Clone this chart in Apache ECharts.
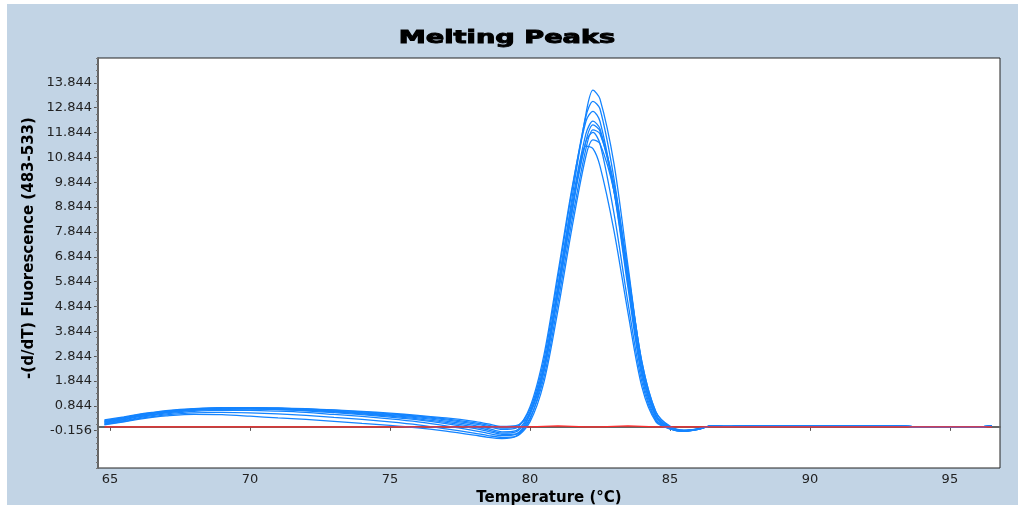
<!DOCTYPE html>
<html>
<head>
<meta charset="utf-8">
<script src="https://cdn.jsdelivr.net/npm/echarts@6/dist/echarts.min.js"></script>
<style>
  html, body { margin: 0; padding: 0; background: #fff; }
  #chart { position: absolute; left: 7px; top: 4px; width: 1011px; height: 501px; }
</style>
</head>
<body>
<div id="chart"></div>
<script>
// temperature (°C)
var temps = [64.8, 65.5, 66, 66.5, 67, 68, 69, 70, 71, 72, 73, 74, 75, 76, 77, 78, 78.5,
  79, 79.5, 80, 80.5, 81, 81.5, 82, 82.25, 82.5, 83, 83.5, 84, 84.5, 85, 85.5, 86, 86.5,
  87, 88, 89, 90, 91, 92, 93, 94, 95, 96, 96.5];

// -(d/dT) fluorescence, 9 samples + negative control
var s1 = [0.28, 0.4, 0.5, 0.58, 0.65, 0.73, 0.77, 0.77, 0.76, 0.73, 0.68, 0.62, 0.55, 0.46, 0.36, 0.22, 0.12,
  0.02, 0.05, 0.55, 2.4, 5.6, 9.2, 12.6, 13.55, 13.2, 10.6, 6.5, 2.5, 0.5, -0.03, -0.14, -0.08, 0.04];
var s2 = [0.25, 0.38, 0.48, 0.56, 0.63, 0.72, 0.76, 0.77, 0.75, 0.72, 0.67, 0.6, 0.52, 0.43, 0.32, 0.17, 0.07,
  -0.05, 0.0, 0.7, 2.7, 6.0, 9.5, 12.5, 13.1, 12.8, 10.0, 6.0, 2.2, 0.4, -0.05, -0.16, -0.09, 0.04];
var s3 = [0.22, 0.36, 0.46, 0.55, 0.62, 0.71, 0.75, 0.76, 0.74, 0.7, 0.64, 0.57, 0.49, 0.4, 0.28, 0.12, 0.02,
  -0.1, -0.05, 0.8, 2.9, 6.2, 9.6, 12.3, 12.7, 12.3, 9.5, 5.6, 2.0, 0.3, -0.07, -0.16, -0.1, 0.04];
var s4 = [0.2, 0.33, 0.44, 0.53, 0.6, 0.7, 0.74, 0.74, 0.72, 0.68, 0.62, 0.55, 0.46, 0.36, 0.23, 0.06, -0.06,
  -0.2, -0.15, 0.6, 2.5, 5.7, 9.0, 11.8, 12.3, 12.0, 9.6, 5.9, 2.3, 0.45, -0.03, -0.15, -0.09, 0.04];
var s5 = [0.18, 0.3, 0.42, 0.5, 0.58, 0.68, 0.72, 0.72, 0.7, 0.66, 0.6, 0.52, 0.43, 0.32, 0.18, 0.0, -0.12,
  -0.25, -0.2, 0.5, 2.3, 5.4, 8.7, 11.5, 12.15, 11.9, 9.5, 5.8, 2.2, 0.4, -0.05, -0.17, -0.1, 0.04];
var s6 = [0.15, 0.28, 0.4, 0.48, 0.56, 0.66, 0.7, 0.71, 0.69, 0.64, 0.57, 0.49, 0.39, 0.28, 0.13, -0.06, -0.18,
  -0.3, -0.28, 0.35, 2.0, 5.0, 8.3, 11.2, 11.95, 11.8, 9.8, 6.3, 2.6, 0.6, 0.0, -0.14, -0.09, 0.04];
var s7 = [0.12, 0.25, 0.36, 0.45, 0.52, 0.62, 0.66, 0.66, 0.63, 0.58, 0.5, 0.42, 0.32, 0.2, 0.04, -0.15, -0.26,
  -0.35, -0.3, 0.5, 2.4, 5.5, 8.8, 11.5, 11.85, 11.4, 8.6, 5.0, 1.8, 0.25, -0.08, -0.18, -0.1, 0.04];
var s8 = [0.1, 0.22, 0.33, 0.41, 0.48, 0.56, 0.58, 0.56, 0.52, 0.46, 0.38, 0.3, 0.2, 0.08, -0.08, -0.25, -0.35,
  -0.42, -0.38, 0.2, 1.8, 4.7, 8.0, 10.9, 11.55, 11.4, 9.5, 6.2, 2.6, 0.6, 0.03, -0.13, -0.08, 0.04];
var s9 = [0.08, 0.2, 0.3, 0.38, 0.44, 0.5, 0.49, 0.43, 0.36, 0.3, 0.22, 0.14, 0.06, -0.04, -0.17, -0.33, -0.42,
  -0.47, -0.38, 0.3, 2.2, 5.3, 8.6, 11.3, 11.2, 10.5, 7.9, 4.6, 1.6, 0.2, -0.08, -0.18, -0.1, 0.04];
// common flat tail 87..96.5
var tail = [0.02, 0.04, 0.04, 0.04, 0.04, 0.04, 0.04, 0.0, 0.0, 0.0, 0.04];
var control = [0, 0, 0, 0, 0, 0, 0, 0, 0, 0, 0, 0, 0, 0, 0, 0, 0,
  0, 0, 0, 0.02, 0.04, 0.02, 0, 0, 0, 0.02, 0.04, 0.02, 0, 0, 0, 0, 0,
  0, 0, 0, 0, 0, 0, 0, 0, 0, 0, 0];

var samples = [s1, s2, s3, s4, s5, s6, s7, s8, s9];

// axis tick labels
var yLabels = [-0.156, 0.844, 1.844, 2.844, 3.844, 4.844, 5.844, 6.844, 7.844, 8.844, 9.844, 10.844, 11.844, 12.844, 13.844];
var xLabels = [65, 70, 75, 80, 85, 90, 95];

var yMinor = [];
for (var v = -1.656; v <= 14.85; v += 0.25) yMinor.push(+v.toFixed(3));

function pairs(ys) {
  return temps.map(function (t, i) { return [t, ys[i]]; });
}

var series = samples.map(function (s, i) {
  return {
    name: 'Sample ' + (i + 1),
    type: 'line',
    data: pairs(s.concat(tail)),
    symbol: 'none',
    smooth: 0.3,
    lineStyle: { color: '#1484ff', width: 1.3 }
  };
});
series.push({
  name: 'Control',
  type: 'line',
  data: pairs(control),
  symbol: 'none',
  lineStyle: { color: '#ff2a2a', width: 1.2 }
});

var chart = echarts.init(document.getElementById('chart'));
chart.setOption({
  animation: false,
  backgroundColor: '#c2d4e5',
  graphic: [
    {
      type: 'text',
      x: 500, y: 35,
      scaleX: 1.6,
      style: {
        text: 'Melting Peaks',
        font: 'bold 17px "DejaVu Sans"',
        fill: '#000',
        stroke: '#000',
        lineWidth: 0.9,
        align: 'center',
        verticalAlign: 'middle'
      }
    },
    {
      type: 'text',
      x: 22, y: 244,
      rotation: Math.PI / 2,
      style: {
        text: '-(d/dT) Fluorescence (483-533)',
        font: 'bold 15px "DejaVu Sans"',
        fill: '#000',
        align: 'center',
        verticalAlign: 'middle'
      }
    }
  ],
  grid: {
    left: 91, right: 18, top: 54, bottom: 37,
    show: true,
    backgroundColor: '#fff',
    borderColor: '#222',
    borderWidth: 1,
    outerBoundsMode: 'none'
  },
  xAxis: {
    type: 'value',
    min: 64.57,
    max: 96.79,
    name: 'Temperature (°C)',
    nameLocation: 'middle',
    nameGap: 21,
    nameTextStyle: { fontFamily: 'DejaVu Sans', fontWeight: 'bold', fontSize: 15, color: '#000' },
    splitLine: { show: false },
    axisLine: { show: true, lineStyle: { color: '#666', width: 2 } },
    axisTick: { show: true, customValues: xLabels, length: 4, lineStyle: { color: '#555' } },
    axisLabel: { customValues: xLabels, margin: 5, color: '#222', fontFamily: 'DejaVu Sans', fontSize: 13 }
  },
  yAxis: [
    {
      type: 'value',
      min: -1.656,
      max: 14.844,
      position: 'left',
      splitLine: { show: false },
      axisLine: { show: true, lineStyle: { color: '#666', width: 2 } },
      axisTick: { show: true, customValues: yLabels, length: 4, lineStyle: { color: '#555' } },
      axisLabel: {
        customValues: yLabels,
        margin: 6,
        color: '#222',
        fontFamily: 'DejaVu Sans',
        fontSize: 13,
        formatter: function (v) { return v.toFixed(3); }
      }
    },
    {
      type: 'value',
      min: -1.656,
      max: 14.844,
      position: 'left',
      splitLine: { show: false },
      axisLine: { show: false },
      axisTick: { show: true, customValues: yMinor, length: 2, lineStyle: { color: '#777' } },
      axisLabel: { show: false }
    }
  ],
  series: series
});
</script>
</body>
</html>
